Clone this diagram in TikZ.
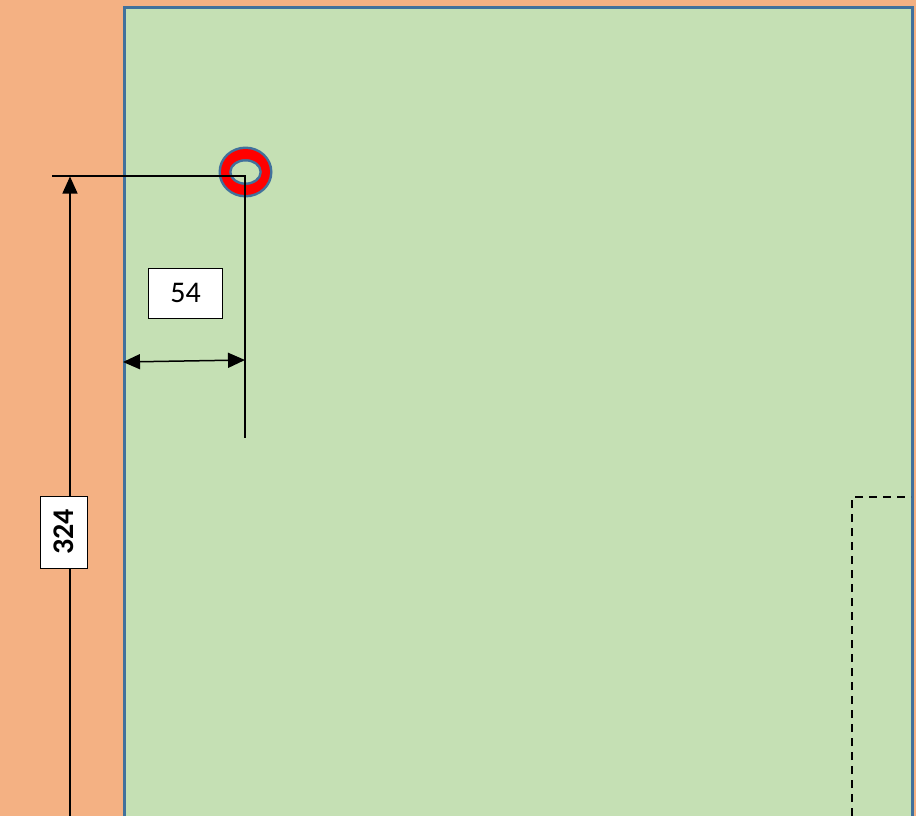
\documentclass[tikz,border=0pt]{standalone}
\usepackage{fontspec}
\setmainfont{Carlito}
\usetikzlibrary{arrows.meta}
\definecolor{bgorange}{HTML}{F4B183}
\definecolor{platefill}{HTML}{C5E0B4}
\definecolor{plateedge}{HTML}{41719C}
\begin{document}
\begin{tikzpicture}[x=1pt,y=-1pt,
  dimline/.style={draw=black,line width=1.5pt},
  dimarrow/.style={dimline,-{Triangle[length=17pt,width=15pt]}},
  dimarrows/.style={dimline,{Triangle[length=17pt,width=15pt]}-{Triangle[length=17pt,width=15pt]}},
  labelbox/.style={draw=black,fill=white,line width=0.9pt,inner sep=0pt,font=\fontsize{30}{32}\selectfont}]
\fill[bgorange] (0,0) rectangle (916,816);
\useasboundingbox (0,0) rectangle (916,816);
% plate
\draw[plateedge,fill=platefill,line width=3pt] (124,8) rectangle (912,830);
% dashed region
\coordinate (dA) at (852,830);
\coordinate (dB) at (852,497);
\coordinate (dC) at (911,497);
\draw[black,line width=1.8pt,dash pattern=on 8pt off 6pt] (dA) -- (dB) -- (dC);
% ring
\coordinate (hole) at (245.5,172);
\fill[plateedge,even odd rule] (hole) ellipse [x radius=27,y radius=25.5] (hole) ellipse [x radius=14,y radius=10.5];
\fill[red,even odd rule] (hole) ellipse [x radius=24.5,y radius=23] (hole) ellipse [x radius=16.5,y radius=13];
% extension lines
\coordinate (extL) at (52,176);
\coordinate (extC) at (245,176);
\coordinate (extB) at (245,438);
\draw[dimline] (extL) -- (extC) -- (extB);
% vertical dimension
\coordinate (vBot) at (70,830);
\coordinate (vTop) at (70,176.5);
\draw[dimarrow] (vBot) -- (vTop);
% horizontal dimension
\coordinate (hL) at (123,362);
\coordinate (hR) at (245,360);
\draw[dimarrows] (hL) -- (hR);
% labels
\node[labelbox,minimum width=74pt,minimum height=50pt] (lab54) at (185.5,293) {54};
\node[labelbox,minimum width=47pt,minimum height=72pt] (lab324) at (63.5,532) {\rotatebox{90}{\textbf{324}}};
\end{tikzpicture}
\end{document}
